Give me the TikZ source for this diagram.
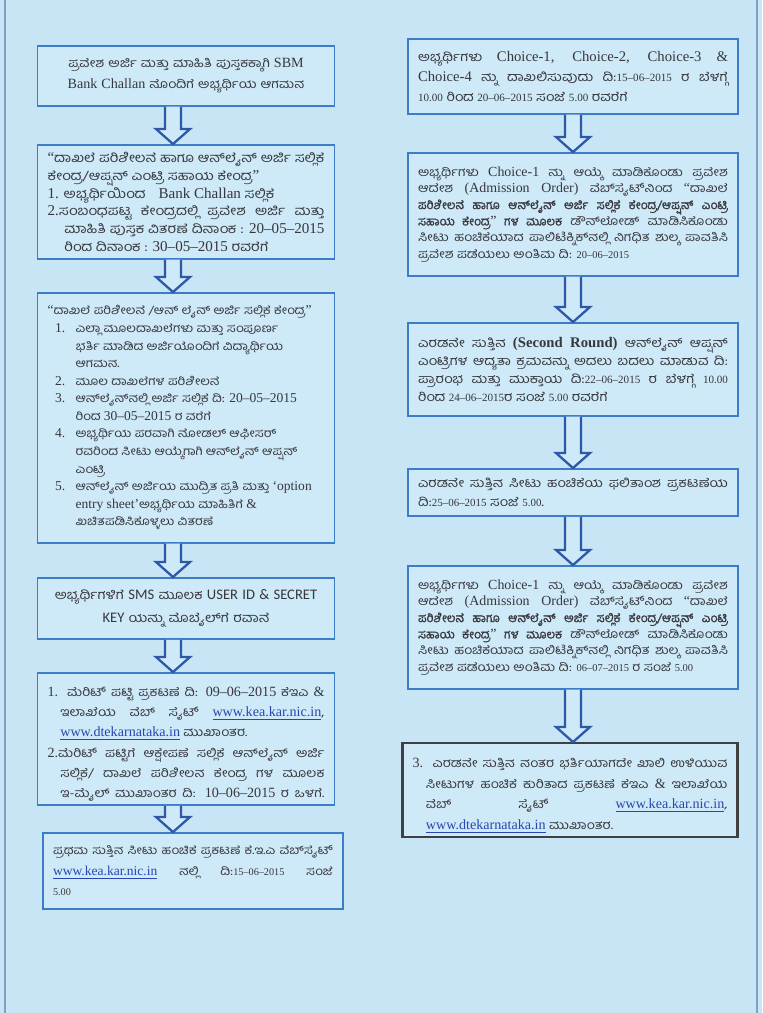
\documentclass[tikz,border=0pt]{standalone}
\usepackage{fontspec}
\setmainfont{Liberation Serif}[Scale=1.1]
\newfontfamily\kn[Script=Kannada,Scale=0.95,FakeStretch=1.15]{Hind Mysuru}
\newfontfamily\knbold[Script=Kannada,Scale=0.95,FakeBold=1.2]{Hind Mysuru}
\newfontfamily\dtfont[Ligatures=TeX,Scale=0.83]{Liberation Serif}
\newfontfamily\sanslatin[Scale=1.08]{Carlito}
\usetikzlibrary{calc}

\definecolor{pagebg}{RGB}{200,229,246}
\definecolor{boxfill}{RGB}{206,233,248}
\definecolor{boxline}{RGB}{61,124,201}
\definecolor{arrowline}{RGB}{45,88,168}
\definecolor{ink}{RGB}{55,55,60}
\definecolor{linkblue}{RGB}{40,70,175}

\lineskiplimit=-\maxdimen
\newcommand\en[1]{{\rmfamily #1}}
\newcommand\dt[1]{{\dtfont #1}}
\newcommand\lnk[1]{{\rmfamily\color{linkblue}\underline{#1}}}
\newcommand\zwnj{^^^^200c}
\newcommand\stepitem[1]{\par\hangindent=#1\relax\hangafter=1\relax\noindent}
\newcommand\nlabel[1]{\hspace*{0.65em}\makebox[1.75em][l]{\en{#1.}}}
\newcommand\flowarrow[3][0]{%
  \draw[blockarrow] let \p1=($(#2.south)+(#1,0)$), \p2=(#3.north) in
    (\x1-0.16cm,\y1) -- (\x1-0.16cm,\y2+0.3cm) -- (\x1-0.34cm,\y2+0.3cm) -- (\x1,\y2)
    -- (\x1+0.34cm,\y2+0.3cm) -- (\x1+0.16cm,\y2+0.3cm) -- (\x1+0.16cm,\y1);}

\tikzset{
  stepbox/.style={draw=boxline, line width=1pt, fill=boxfill, text=ink, anchor=north,
    inner xsep=0.2cm, inner ysep=0.08cm, align=justify},
  lbox/.style={stepbox, text width=5.54cm},
  rbox/.style={stepbox, text width=6.2cm},
  txt/.style 2 args={font=\kn\fontsize{#1}{#2}\selectfont},
  blockarrow/.style={draw=arrowline, line width=1.3pt, fill=boxfill, line join=miter}
}

\begin{document}
\begin{tikzpicture}[x=0.02cm, y=-0.02cm]
\useasboundingbox (0,0) rectangle (762,1013);
\fill[pagebg] (0,0) rectangle (762,1013);
\draw[black!25!boxline!60, line width=0.6pt] (5,-2) rectangle (757,1015);

% left column
\node[lbox, txt={7.3}{12}, align=center, minimum height=1.2cm] (arrival) at (186,45)
{ಪ್ರವೇಶ ಅರ್ಜಿ ಮತ್ತು ಮಾಹಿತಿ ಪುಸ್ತಕಕ್ಕಾಗಿ \en{SBM}\\\en{Bank Challan} ನೊಂದಿಗೆ ಅಭ್ಯರ್ಥಿಯ ಆಗಮನ};

\node[lbox, txt={7.8}{10.2}, minimum height=2.28cm] (helpdesk) at (186,144)
{\en{“}ದಾಖಲೆ ಪರಿಶೀಲನೆ ಹಾಗೂ ಆನ್\zwnj ಲೈನ್ ಅರ್ಜಿ ಸಲ್ಲಿಕೆ\linebreak ಕೇಂದ್ರ/ಆಪ್ಷನ್ ಎಂಟ್ರಿ ಸಹಾಯ ಕೇಂದ್ರ\en{”}
\stepitem{1.3em}\en{1.} ಅಭ್ಯರ್ಥಿಯಿಂದ\quad\en{Bank Challan} ಸಲ್ಲಿಕೆ
\stepitem{1.3em}\en{2.}ಸಂಬಂಧಪಟ್ಟ ಕೇಂದ್ರದಲ್ಲಿ ಪ್ರವೇಶ ಅರ್ಜಿ ಮತ್ತು\linebreak ಮಾಹಿತಿ ಪುಸ್ತಕ ವಿತರಣೆ ದಿನಾಂಕ : \en{20--05--2015}\linebreak ರಿಂದ ದಿನಾಂಕ : \en{30--05--2015} ರವರೆಗೆ\par};

\node[lbox, txt={7}{10}, minimum height=5cm] (verify) at (186,292)
{\en{“}ದಾಖಲೆ ಪರಿಶೀಲನೆ /ಆನ್ ಲೈನ್ ಅರ್ಜಿ ಸಲ್ಲಿಕೆ ಕೇಂದ್ರ\en{”}
\stepitem{2.4em}\nlabel{1}ಎಲ್ಲಾ ಮೂಲದಾಖಲೆಗಳು ಮತ್ತು ಸಂಪೂರ್ಣ\newline ಭರ್ತಿ ಮಾಡಿದ ಅರ್ಜಿಯೊಂದಿಗೆ ವಿದ್ಯಾರ್ಥಿಯ\newline ಆಗಮನ.
\stepitem{2.4em}\nlabel{2}ಮೂಲ ದಾಖಲೆಗಳ ಪರಿಶೀಲನೆ
\stepitem{2.4em}\nlabel{3}ಆನ್\zwnj ಲೈನ್\zwnj ನಲ್ಲಿ ಅರ್ಜಿ ಸಲ್ಲಿಕೆ ದಿ: \en{20--05--2015}\newline ರಿಂದ \en{30--05--2015} ರ ವರೆಗೆ
\stepitem{2.4em}\nlabel{4}ಅಭ್ಯರ್ಥಿಯ ಪರವಾಗಿ ನೋಡಲ್ ಆಫೀಸರ್\newline ರವರಿಂದ ಸೀಟು ಆಯ್ಕೆಗಾಗಿ ಆನ್\zwnj ಲೈನ್ ಆಪ್ಷನ್\newline ಎಂಟ್ರಿ
\stepitem{2.4em}\nlabel{5}ಆನ್\zwnj ಲೈನ್ ಅರ್ಜಿಯ ಮುದ್ರಿತ ಪ್ರತಿ ಮತ್ತು \en{‘option}\newline \en{entry sheet’}ಅಭ್ಯರ್ಥಿಯ ಮಾಹಿತಿಗೆ \en{\&}\newline ಖಚಿತಪಡಿಸಿಕೊಳ್ಳಲು ವಿತರಣೆ\par};

\node[lbox, txt={7.7}{13}, align=center, minimum height=1.22cm] (sms) at (186,577)
{ಅಭ್ಯರ್ಥಿಗಳಿಗೆ {\sanslatin SMS} ಮೂಲಕ {\sanslatin USER ID \& SECRET}\\{\sanslatin KEY} ಯನ್ನು ಮೊಬೈಲ್\zwnj ಗೆ ರವಾನೆ};

\node[lbox, txt={7.3}{11.4}, minimum height=2.56cm] (merit) at (186,672)
{\stepitem{1.05em}\en{1.} ಮೆರಿಟ್ ಪಟ್ಟಿ ಪ್ರಕಟಣೆ ದಿ: \en{09--06--2015} ಕೆಇಎ \en{\&}\linebreak ಇಲಾಖೆಯ ವೆಬ್ ಸೈಟ್ \lnk{www.kea.kar.nic.in},\linebreak \lnk{www.dtekarnataka.in} ಮುಖಾಂತರ.
\stepitem{1.05em}\en{2.}ಮೆರಿಟ್ ಪಟ್ಟಿಗೆ ಆಕ್ಷೇಪಣೆ ಸಲ್ಲಿಕೆ ಆನ್\zwnj ಲೈನ್ ಅರ್ಜಿ\linebreak ಸಲ್ಲಿಕೆ/ ದಾಖಲೆ ಪರಿಶೀಲನ ಕೇಂದ್ರ ಗಳ ಮೂಲಕ\linebreak ಇ-ಮೈಲ್ ಮುಖಾಂತರ ದಿ: \en{10--06--2015} ರ ಒಳಗೆ.\parfillskip=0pt\par};

\node[stepbox, text width=5.6cm, txt={7}{11.7}, minimum height=1.52cm] (round1) at (193,832)
{ಪ್ರಥಮ ಸುತ್ತಿನ ಸೀಟು ಹಂಚಿಕೆ ಪ್ರಕಟಣೆ ಕೆ.ಇ.ಎ ವೆಬ್\zwnj ಸೈಟ್\linebreak \lnk{www.kea.kar.nic.in} ನಲ್ಲಿ ದಿ:\dt{15--06--2015} ಸಂಜೆ\linebreak \dt{5.00}};

% right column
\node[rbox, txt={7.6}{11.4}, minimum height=1.5cm] (choice) at (573,38)
{ಅಭ್ಯರ್ಥಿಗಳು \en{Choice-1, Choice-2, Choice-3 \&}\linebreak \en{Choice-4} ನ್ನು ದಾಖಲಿಸುವುದು ದಿ:\dt{15--06--2015} ರ ಬೆಳಗ್ಗೆ\linebreak \dt{10.00} ರಿಂದ \dt{20--06--2015} ಸಂಜೆ \dt{5.00} ರವರೆಗೆ};

\node[rbox, txt={7.2}{9.3}, minimum height=2.46cm] (order1) at (573,152)
{ಅಭ್ಯರ್ಥಿಗಳು \en{Choice-1} ನ್ನು ಆಯ್ಕೆ ಮಾಡಿಕೊಂಡು ಪ್ರವೇಶ\linebreak ಆದೇಶ \en{(Admission Order)} ವೆಬ್\zwnj ಸೈಟ್\zwnj ನಿಂದ \en{“}ದಾಖಲೆ\linebreak {\knbold ಪರಿಶೀಲನೆ ಹಾಗೂ ಆನ್\zwnj ಲೈನ್ ಅರ್ಜಿ ಸಲ್ಲಿಕೆ ಕೇಂದ್ರ/ಆಪ್ಷನ್ ಎಂಟ್ರಿ\linebreak ಸಹಾಯ ಕೇಂದ್ರ\en{”} ಗಳ ಮೂಲಕ} ಡೌನ್\zwnj ಲೋಡ್ ಮಾಡಿಸಿಕೊಂಡು\linebreak ಸೀಟು ಹಂಚಿಕೆಯಾದ ಪಾಲಿಟೆಕ್ನಿಕ್\zwnj ನಲ್ಲಿ ನಿಗಧಿತ ಶುಲ್ಕ ಪಾವತಿಸಿ\linebreak ಪ್ರವೇಶ ಪಡೆಯಲು ಅಂತಿಮ ದಿ: \dt{20--06--2015}};

\node[rbox, txt={7.6}{10.2}, minimum height=1.86cm] (round2) at (573,322)
{ಎರಡನೇ ಸುತ್ತಿನ \en{\bfseries (Second Round)} ಆನ್\zwnj ಲೈನ್ ಆಪ್ಷನ್\linebreak ಎಂಟ್ರಿಗಳ ಆದ್ಯತಾ ಕ್ರಮವನ್ನು ಅದಲು ಬದಲು ಮಾಡುವ ದಿ:\linebreak ಪ್ರಾರಂಭ ಮತ್ತು ಮುಕ್ತಾಯ ದಿ:\dt{22--06--2015} ರ ಬೆಳಗ್ಗೆ \dt{10.00}\linebreak ರಿಂದ \dt{24--06--2015}ರ ಸಂಜೆ \dt{5.00} ರವರೆಗೆ};

\node[rbox, txt={7.5}{10.8}, minimum height=0.94cm] (result2) at (573,468)
{ಎರಡನೇ ಸುತ್ತಿನ ಸೀಟು ಹಂಚಿಕೆಯ ಫಲಿತಾಂಶ ಪ್ರಕಟಣೆಯ\linebreak ದಿ:\dt{25--06--2015} ಸಂಜೆ \dt{5.00}.};

\node[rbox, txt={7.2}{9.3}, minimum height=2.46cm] (order2) at (573,565)
{ಅಭ್ಯರ್ಥಿಗಳು \en{Choice-1} ನ್ನು ಆಯ್ಕೆ ಮಾಡಿಕೊಂಡು ಪ್ರವೇಶ\linebreak ಆದೇಶ \en{(Admission Order)} ವೆಬ್\zwnj ಸೈಟ್\zwnj ನಿಂದ \en{“}ದಾಖಲೆ\linebreak {\knbold ಪರಿಶೀಲನೆ ಹಾಗೂ ಆನ್\zwnj ಲೈನ್ ಅರ್ಜಿ ಸಲ್ಲಿಕೆ ಕೇಂದ್ರ/ಆಪ್ಷನ್ ಎಂಟ್ರಿ\linebreak ಸಹಾಯ ಕೇಂದ್ರ\en{”} ಗಳ ಮೂಲಕ} ಡೌನ್\zwnj ಲೋಡ್ ಮಾಡಿಸಿಕೊಂಡು\linebreak ಸೀಟು ಹಂಚಿಕೆಯಾದ ಪಾಲಿಟೆಕ್ನಿಕ್\zwnj ನಲ್ಲಿ ನಿಗಧಿತ ಶುಲ್ಕ ಪಾವತಿಸಿ\linebreak ಪ್ರವೇಶ ಪಡೆಯಲು ಅಂತಿಮ ದಿ: \dt{06--07--2015} ರ ಸಂಜೆ \dt{5.00}};

\node[stepbox, text width=6.3cm, draw=black!75, line width=1.4pt, txt={7.3}{11.7}, minimum height=1.76cm] (vacant) at (570,742)
{\stepitem{1.1em}\en{3.} ಎರಡನೇ ಸುತ್ತಿನ ನಂತರ ಭರ್ತಿಯಾಗದೇ ಖಾಲಿ ಉಳಿಯುವ\linebreak ಸೀಟುಗಳ ಹಂಚಿಕೆ ಕುರಿತಾದ ಪ್ರಕಟಣೆ ಕೆಇಎ \en{\&} ಇಲಾಖೆಯ\linebreak ವೆಬ್ ಸೈಟ್ \lnk{www.kea.kar.nic.in},\linebreak \lnk{www.dtekarnataka.in} ಮುಖಾಂತರ.\par};

\flowarrow[-13]{arrival}{helpdesk}
\flowarrow[-13]{helpdesk}{verify}
\flowarrow[-13]{verify}{sms}
\flowarrow[-13]{sms}{merit}
\flowarrow[-13]{merit}{round1}
\flowarrow{choice}{order1}
\flowarrow{order1}{round2}
\flowarrow{round2}{result2}
\flowarrow{result2}{order2}
\flowarrow{order2}{vacant}
\end{tikzpicture}
\end{document}
